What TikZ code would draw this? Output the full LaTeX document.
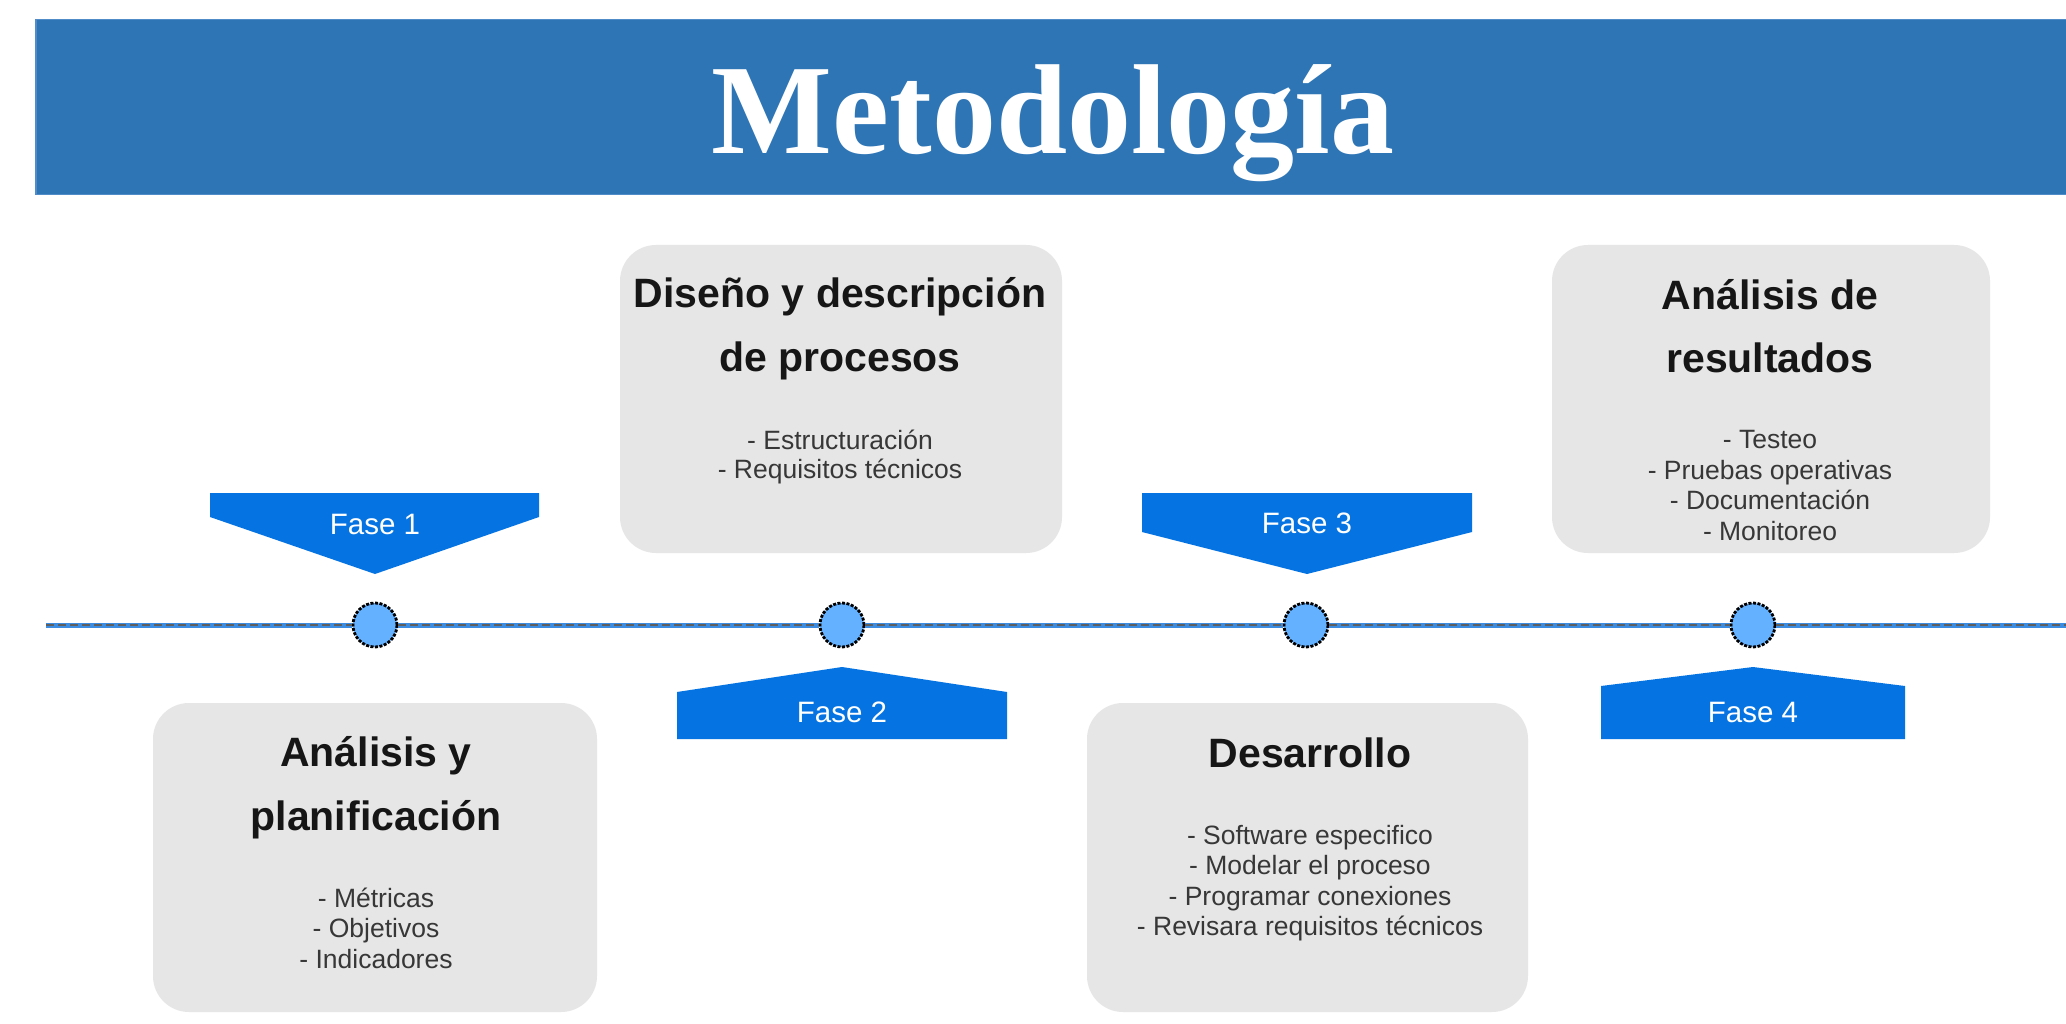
\documentclass[tikz,border=0pt]{standalone}
\usepackage{fontspec}
\setmainfont{Liberation Serif}
\newfontfamily\arialf{Liberation Sans}
\definecolor{barblue}{RGB}{46,117,182}
\definecolor{baredge}{RGB}{80,140,200}
\definecolor{fasblue}{RGB}{5,116,226}
\definecolor{dotfill}{RGB}{100,178,255}
\definecolor{boxgray}{RGB}{230,230,230}
\definecolor{linebl}{RGB}{60,140,225}
\definecolor{dashgray}{RGB}{95,95,95}
\definecolor{titletxt}{RGB}{22,22,22}
\definecolor{itemtxt}{RGB}{55,55,55}
\tikzset{
  phasebox/.style={rectangle, rounded corners=36pt, fill=boxgray, draw=none, inner sep=0pt},
  boxtitle/.style={anchor=base, inner sep=0pt, text=titletxt, font=\arialf\bfseries\fontsize{41}{48}\selectfont},
  boxitem/.style={anchor=base, inner sep=0pt, text=itemtxt, font=\arialf\fontsize{26.5}{30}\selectfont},
  fasetxt/.style={anchor=base, inner sep=0pt, text=white, font=\arialf\fontsize{29.5}{34}\selectfont},
  fasefill/.style={fill=fasblue, draw=none},
  dot/.style={circle, minimum size=44pt, inner sep=0pt, fill=dotfill, draw=black, line width=2.8pt, dash pattern=on 3pt off 1.5pt},
  tlbase/.style={line width=5pt, draw=linebl},
  tldash/.style={line width=2.4pt, draw=dashgray, dash pattern=on 8pt off 4pt}
}
\begin{document}
\begin{tikzpicture}[x=1pt,y=-1pt]
\useasboundingbox (0,0) rectangle (2066,1024);
\fill[white] (0,0) rectangle (2066,1024);
% title bar
\node[rectangle, fill=barblue, draw=baredge, line width=1.5pt, minimum width=2034pt, minimum height=175pt, inner sep=0pt, anchor=north west] (bar) at (35,19) {};
\node[anchor=base, inner sep=0pt, text=white, font=\bfseries\fontsize{128}{150}\selectfont] (title) at (1053,154) {Metodología};
% timeline
\coordinate (tl) at (46,625);
\coordinate (tr) at (2066,625);
\node[dot] (c1) at (375,625) {};
\node[dot] (c2) at (842,625) {};
\node[dot] (c3) at (1306,625) {};
\node[dot] (c4) at (1753,625) {};
\foreach \a/\b in {tl/c1,c1/c2,c2/c3,c3/c4,c4/tr}{
  \draw[tlbase] (\a) -- (\b);
  \draw[tldash] (\a) -- (\b);
}
% phase tags
\fill[fasefill] (210,493) -- (539,493) -- (539,517) -- (375,574) -- (210,517) -- cycle;
\node[fasetxt] (f1) at (375,534) {Fase 1};
\fill[fasefill] (1142,493) -- (1472,493) -- (1472,532) -- (1307,574) -- (1142,532) -- cycle;
\node[fasetxt] (f3) at (1307,533) {Fase 3};
\fill[fasefill] (677,739) -- (1007,739) -- (1007,692) -- (842,667) -- (677,692) -- cycle;
\node[fasetxt] (f2) at (842,722) {Fase 2};
\fill[fasefill] (1601,739) -- (1905,739) -- (1905,686) -- (1753,667) -- (1601,686) -- cycle;
\node[fasetxt] (f4) at (1753,722) {Fase 4};
% boxes
\node[phasebox, minimum width=444pt, minimum height=309pt] (b1) at (375,857.5) {};
\node[phasebox, minimum width=442pt, minimum height=308pt] (b2) at (841,399) {};
\node[phasebox, minimum width=441pt, minimum height=309pt] (b3) at (1307.5,857.5) {};
\node[phasebox, minimum width=438pt, minimum height=308pt] (b4) at (1771,399) {};
% box 1
\node[boxtitle] (t1a) at (376,766) {Análisis y};
\node[boxtitle] (t1b) at (376,830) {planificación};
\node[boxitem] (i1a) at (376,907) {- Métricas};
\node[boxitem] (i1b) at (376,937.5) {- Objetivos};
\node[boxitem] (i1c) at (376,968) {- Indicadores};
% box 2
\node[boxtitle] (t2a) at (840,308) {Diseño y descripción};
\node[boxtitle] (t2b) at (840,371) {de procesos};
\node[boxitem] (i2a) at (840,449) {- Estructuración};
\node[boxitem] (i2b) at (840,478) {- Requisitos técnicos};
% box 3
\node[boxtitle] (t3a) at (1310,767) {Desarrollo};
\node[boxitem] (i3a) at (1310,844) {- Software especifico};
\node[boxitem] (i3b) at (1310,874.5) {- Modelar el proceso};
\node[boxitem] (i3c) at (1310,905) {- Programar conexiones};
\node[boxitem] (i3d) at (1310,935.5) {- Revisara requisitos técnicos};
% box 4
\node[boxtitle] (t4a) at (1770,309) {Análisis de};
\node[boxtitle] (t4b) at (1770,372) {resultados};
\node[boxitem] (i4a) at (1770,448.5) {- Testeo};
\node[boxitem] (i4b) at (1770,479) {- Pruebas operativas};
\node[boxitem] (i4c) at (1770,509.5) {- Documentación};
\node[boxitem] (i4d) at (1770,540) {- Monitoreo};
\end{tikzpicture}
\end{document}
